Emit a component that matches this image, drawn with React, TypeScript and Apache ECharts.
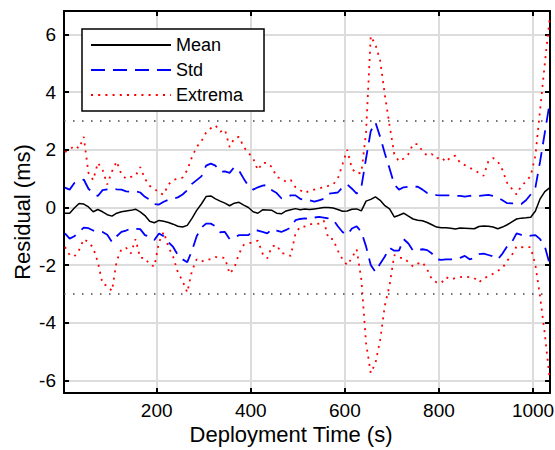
import React, { useEffect, useRef } from 'react';
import * as echarts from 'echarts';

// sample times (s)
const TIMES = [
  5, 15, 25, 35, 45, 55, 65, 75, 85, 95,
  105, 115, 125, 135, 145, 155, 165, 175, 185, 195,
  205, 215, 225, 235, 245, 255, 265, 275, 285, 295,
  305, 315, 325, 335, 345, 355, 365, 375, 385, 395,
  405, 415, 425, 435, 445, 455, 465, 475, 485, 495,
  505, 515, 525, 535, 545, 555, 565, 575, 585, 595,
  605, 615, 625, 635, 645, 655, 665, 675, 685, 695,
  705, 715, 725, 735, 745, 755, 765, 775, 785, 795,
  805, 815, 825, 835, 845, 855, 865, 875, 885, 895,
  905, 915, 925, 935, 945, 955, 965, 975, 985, 995,
  1005, 1015, 1025, 1035,
];

const MEAN = [
  -0.2, -0.2, -0.02, 0.14, 0.12, 0.02, -0.15, -0.07, -0.15, -0.25,
  -0.3, -0.2, -0.15, -0.12, -0.1, -0.06, -0.15, -0.28, -0.48, -0.53,
  -0.45, -0.48, -0.52, -0.58, -0.65, -0.68, -0.62, -0.38, -0.1, 0.12,
  0.38, 0.4, 0.3, 0.22, 0.15, 0.06, 0.15, 0.18, 0.08, 0.0,
  -0.15, -0.2, -0.08, -0.09, -0.1, -0.2, -0.22, -0.12, -0.08, -0.04,
  -0.08, -0.05, -0.07, -0.05, -0.03, 0.0, 0.0, -0.02, -0.07, -0.13,
  -0.12, -0.06, -0.05, -0.12, 0.22, 0.28, 0.37, 0.25, 0.06, -0.05,
  -0.33, -0.27, -0.2, -0.3, -0.4, -0.44, -0.46, -0.52, -0.6, -0.68,
  -0.7, -0.7, -0.72, -0.75, -0.71, -0.72, -0.73, -0.74, -0.66, -0.64,
  -0.65, -0.68, -0.74, -0.68, -0.6, -0.5, -0.4, -0.37, -0.36, -0.34,
  -0.12, 0.3, 0.55, 0.68,
];

const STD_UP = [
  0.69, 0.62, 0.85, 0.9, 0.97, 0.65, 0.5, 0.4, 0.6, 0.63,
  0.65, 0.63, 0.62, 0.56, 0.55, 0.57, 0.52, 0.37, 0.27, 0.12,
  0.1, 0.2, 0.27, 0.31, 0.35, 0.45, 0.6, 0.82, 0.95, 1.08,
  1.45, 1.52, 1.45, 1.24, 1.25, 1.2, 1.4, 1.28, 1.0, 0.75,
  0.62, 0.7, 0.76, 0.78, 0.6, 0.5, 0.32, 0.35, 0.42, 0.42,
  0.3, 0.25, 0.25, 0.2, 0.25, 0.3, 0.48, 0.5, 0.52, 0.7,
  0.8, 0.65, 0.48, 0.7, 1.7, 2.65, 2.95, 2.45, 1.87, 1.35,
  0.8, 0.62, 0.7, 0.72, 0.72, 0.72, 0.62, 0.5, 0.46, 0.43,
  0.42, 0.42, 0.42, 0.4, 0.4, 0.38, 0.4, 0.42, 0.4, 0.42,
  0.44, 0.4, 0.35, 0.25, 0.15, 0.14, 0.14, 0.12, 0.25, 0.45,
  0.7, 1.6, 2.6, 3.6,
];

const STD_LOW = [
  -0.9, -1.08, -1.0, -0.85, -0.7, -0.72, -0.8, -0.82, -0.85, -0.95,
  -1.2, -1.0, -0.85, -0.8, -0.73, -0.74, -0.75, -0.96, -1.02, -1.13,
  -0.9, -1.0, -1.2, -1.37, -1.65, -1.8, -1.9, -1.5, -1.0, -0.7,
  -0.56, -0.56, -0.65, -0.86, -0.85, -1.1, -1.05, -0.96, -0.96, -0.96,
  -0.8, -0.8, -0.85, -0.9, -0.75, -0.8, -0.85, -0.78, -0.7, -0.44,
  -0.4, -0.38, -0.4, -0.35, -0.33, -0.35, -0.38, -0.42, -0.65, -0.85,
  -0.95, -0.73, -0.65, -0.85, -1.35, -2.0, -2.24, -1.95, -1.7, -1.4,
  -1.5, -1.5, -1.1, -1.25, -1.5, -1.48, -1.45, -1.48, -1.6, -1.8,
  -1.82, -1.8, -1.8, -1.8, -1.75, -1.68, -1.8, -1.75, -1.62, -1.6,
  -1.65, -1.7, -1.8, -1.6, -1.35, -1.2, -0.9, -0.95, -1.0, -0.98,
  -0.96, -1.1, -1.35, -1.95,
];

const EXT_UP = [
  1.93, 2.0, 2.15, 2.05, 2.45, 1.2, 0.95, 1.55, 1.3, 0.8,
  1.25, 1.6, 1.15, 1.0, 1.06, 1.1, 1.4, 1.0, 0.75, 0.66,
  0.5, 0.45, 0.8, 0.95, 1.0, 1.04, 1.3, 1.75, 2.1, 2.3,
  2.6, 2.75, 2.85, 2.63, 2.7, 2.1, 2.4, 2.45, 2.1, 1.9,
  1.7, 1.3, 1.55, 1.55, 1.4, 1.06, 1.0, 0.89, 0.95, 0.7,
  0.6, 0.5, 0.58, 0.62, 0.65, 0.72, 0.75, 0.8, 1.0, 1.5,
  2.0, 1.35, 1.18, 1.2, 2.6, 5.95, 5.65, 5.1, 3.9, 2.85,
  1.85, 1.6, 1.7, 1.85, 2.2, 2.2, 1.95, 1.8, 1.85, 1.7,
  1.75, 1.58, 1.75, 1.8, 1.55, 1.47, 1.38, 1.3, 1.2, 1.1,
  1.6, 1.72, 1.6, 1.3, 0.85, 0.65, 0.45, 0.75, 0.9, 1.1,
  1.8, 3.4, 5.0, 6.5,
];

const EXT_LOW = [
  -1.37, -1.65, -1.7, -1.48, -1.1, -1.2, -1.4, -1.9, -2.65, -2.72,
  -2.9, -1.85, -1.45, -1.4, -1.6, -1.1, -1.75, -1.75, -1.98, -2.05,
  -1.2, -0.85, -1.37, -1.71, -2.25, -2.55, -2.95, -2.2, -1.8, -1.88,
  -1.8, -1.8, -1.72, -1.73, -1.75, -2.3, -2.1, -1.6, -1.3, -1.25,
  -1.2, -1.15, -1.6, -1.77, -1.35, -1.3, -1.58, -1.62, -1.68, -0.9,
  -0.67, -0.66, -0.58, -0.58, -0.56, -0.45, -1.08, -1.1, -1.5, -1.8,
  -2.0, -1.75, -1.45, -2.5, -4.7, -5.75, -5.4, -4.6, -3.4, -2.7,
  -1.65, -1.75, -1.75, -1.9, -2.05, -1.95, -1.9, -2.15, -2.5, -2.6,
  -2.62, -2.42, -2.5, -2.45, -2.42, -2.4, -2.42, -2.45, -2.6, -2.45,
  -2.4, -2.3, -2.2, -2.1, -1.85, -1.65, -1.35, -1.38, -1.37, -1.38,
  -2.0, -3.1, -4.4, -5.9,
];

const THRESHOLDS = [3, -3];

const FONT = '"Liberation Sans", Arial, Helvetica, sans-serif';

const pairs = (ys: number[]) => TIMES.map((t, i) => [t, ys[i]]);

const isMultiple = (v: number, step: number) =>
  Math.abs(v / step - Math.round(v / step)) < 1e-6;

const baseX = {
  type: 'value',
  min: 3,
  max: 1036,
  splitNumber: 5,
  axisLine: { show: true, onZero: false, lineStyle: { color: '#000', width: 2 } },
  axisTick: { show: true, inside: true, length: 5, lineStyle: { color: '#000', width: 2 } },
};

const baseY = {
  type: 'value',
  min: -6.44,
  max: 6.82,
  splitNumber: 7,
  axisLine: { show: true, onZero: false, lineStyle: { color: '#000', width: 2 } },
  axisTick: { show: true, inside: true, length: 5, lineStyle: { color: '#000', width: 2 } },
};

export default function App() {
  const chartRef = useRef<HTMLDivElement>(null);

  useEffect(() => {
    if (!chartRef.current) return;
    const chart = echarts.init(chartRef.current, null, { renderer: 'svg' });

    const stdStyle = { color: '#0000ff', width: 1.8, type: [14, 8] };
    const extStyle = { color: '#ff0000', width: 1.8, type: [2, 5.2] };

    chart.setOption({
      animation: false,
      backgroundColor: '#fff',
      grid: { left: 64, right: 5, top: 11, bottom: 57, containLabel: false, outerBoundsMode: 'none' },
      legend: {
        data: ['Mean', 'Std', 'Extrema'],
        orient: 'vertical',
        left: 82,
        top: 29,
        itemWidth: 80,
        itemHeight: 18,
        itemGap: 7,
        padding: [7, 21, 7, 8],
        borderColor: '#000',
        borderWidth: 1.5,
        backgroundColor: '#fff',
        selectedMode: false,
        // hide the marker circle that line series add in the middle of the icon
        itemStyle: { opacity: 0 },
        textStyle: { fontSize: 18, color: '#000', fontFamily: FONT },
      },
      xAxis: [
        {
          ...baseX,
          position: 'bottom',
          axisLabel: {
            color: '#000',
            fontSize: 19,
            fontFamily: FONT,
            margin: 8,
            formatter: (v: number) => (isMultiple(v, 200) ? String(v) : ''),
          },
          splitLine: { show: true, lineStyle: { color: '#dcdcdc', width: 2 } },
        },
        {
          ...baseX,
          position: 'top',
          axisLabel: { show: false },
          splitLine: { show: false },
        },
      ],
      yAxis: [
        {
          ...baseY,
          position: 'left',
          axisLabel: {
            color: '#000',
            fontSize: 19,
            fontFamily: FONT,
            margin: 8,
            formatter: (v: number) => (isMultiple(v, 2) ? String(v) : ''),
          },
          splitLine: { show: true, lineStyle: { color: '#dcdcdc', width: 2 } },
        },
        {
          ...baseY,
          position: 'right',
          axisLabel: { show: false },
          splitLine: { show: false },
        },
      ],
      graphic: [
        {
          type: 'text',
          x: 291,
          y: 434,
          style: {
            text: 'Deployment Time (s)',
            fill: '#000',
            font: `22px ${FONT}`,
            textAlign: 'center',
            textVerticalAlign: 'middle',
          },
        },
        {
          type: 'text',
          x: 22,
          y: 212,
          rotation: Math.PI / 2,
          style: {
            text: 'Residual (ms)',
            fill: '#000',
            font: `22px ${FONT}`,
            textAlign: 'center',
            textVerticalAlign: 'middle',
          },
        },
      ],
      series: [
        {
          name: 'Extrema',
          type: 'line',
          symbol: 'none',
          showSymbol: false,
          itemStyle: { color: '#ff0000' },
          lineStyle: extStyle,
          data: pairs(EXT_UP),
        },
        {
          name: 'Extrema',
          type: 'line',
          symbol: 'none',
          showSymbol: false,
          itemStyle: { color: '#ff0000' },
          lineStyle: extStyle,
          data: pairs(EXT_LOW),
        },
        {
          name: 'Std',
          type: 'line',
          symbol: 'none',
          showSymbol: false,
          itemStyle: { color: '#0000ff' },
          lineStyle: stdStyle,
          data: pairs(STD_UP),
        },
        {
          name: 'Std',
          type: 'line',
          symbol: 'none',
          showSymbol: false,
          itemStyle: { color: '#0000ff' },
          lineStyle: stdStyle,
          data: pairs(STD_LOW),
        },
        {
          name: 'Mean',
          type: 'line',
          symbol: 'none',
          showSymbol: false,
          itemStyle: { color: '#000' },
          lineStyle: { color: '#000', width: 1.5 },
          data: pairs(MEAN),
          markLine: {
            silent: true,
            symbol: ['none', 'none'],
            label: { show: false },
            lineStyle: { color: '#444', width: 1.5, type: [1.5, 7.5] },
            data: THRESHOLDS.map((v) => ({ yAxis: v })),
          },
        },
      ],
    });

    return () => {
      chart.dispose();
    };
  }, []);

  return (
    <div style={{ position: 'fixed', left: 0, top: 0, width: 555, height: 450, background: '#fff' }}>
      <div ref={chartRef} style={{ width: 555, height: 450 }} />
    </div>
  );
}
